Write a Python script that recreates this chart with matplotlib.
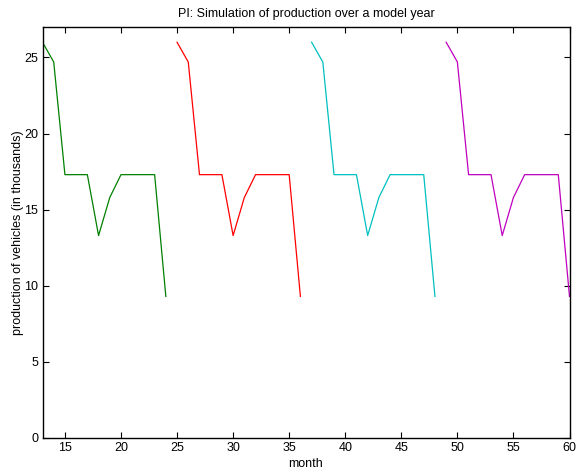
import matplotlib
matplotlib.use("Agg")
import matplotlib.pyplot as plt

year_profile = [26.0, 24.7, 17.3, 17.3, 17.3, 13.3, 15.8, 17.3, 17.3, 17.3, 17.3, 9.3]
months_1 = list(range(13, 25))
months_2 = list(range(25, 37))
months_3 = list(range(37, 49))
months_4 = list(range(49, 61))
series = [
    (months_1, year_profile, (0, 0.5, 0)),
    (months_2, year_profile, (1, 0, 0)),
    (months_3, year_profile, (0, 0.75, 0.75)),
    (months_4, year_profile, (0.75, 0, 0.75)),
]
xticks = [15, 20, 25, 30, 35, 40, 45, 50, 55, 60]
yticks = [0, 5, 10, 15, 20, 25]

plt.rcParams['font.family'] = ['Liberation Sans', 'DejaVu Sans']
plt.rcParams['font.size'] = 9

fig = plt.figure(figsize=(5.77, 4.72), dpi=100)
ax = fig.add_axes([42.5/577, 34/472, (569.5-42.5)/577, (438-27)/472])
for xs, ys, c in series:
    ax.plot(xs, ys, color=c, linewidth=0.9)
ax.set_xlim(13, 60)
ax.set_ylim(0, 27)
ax.set_xticks(xticks)
ax.set_yticks(yticks)
ax.tick_params(direction='in', top=True, right=True, length=4, width=0.8, labelsize=9, pad=3)
for s in ax.spines.values():
    s.set_linewidth(1.0)
ax.set_title('PI: Simulation of production over a model year', fontsize=9, pad=7)
ax.set_xlabel('month', fontsize=9, labelpad=3)
ax.set_ylabel('production of vehicles (in thousands)', fontsize=9, labelpad=0)
fig.savefig('out.png', dpi=100)
